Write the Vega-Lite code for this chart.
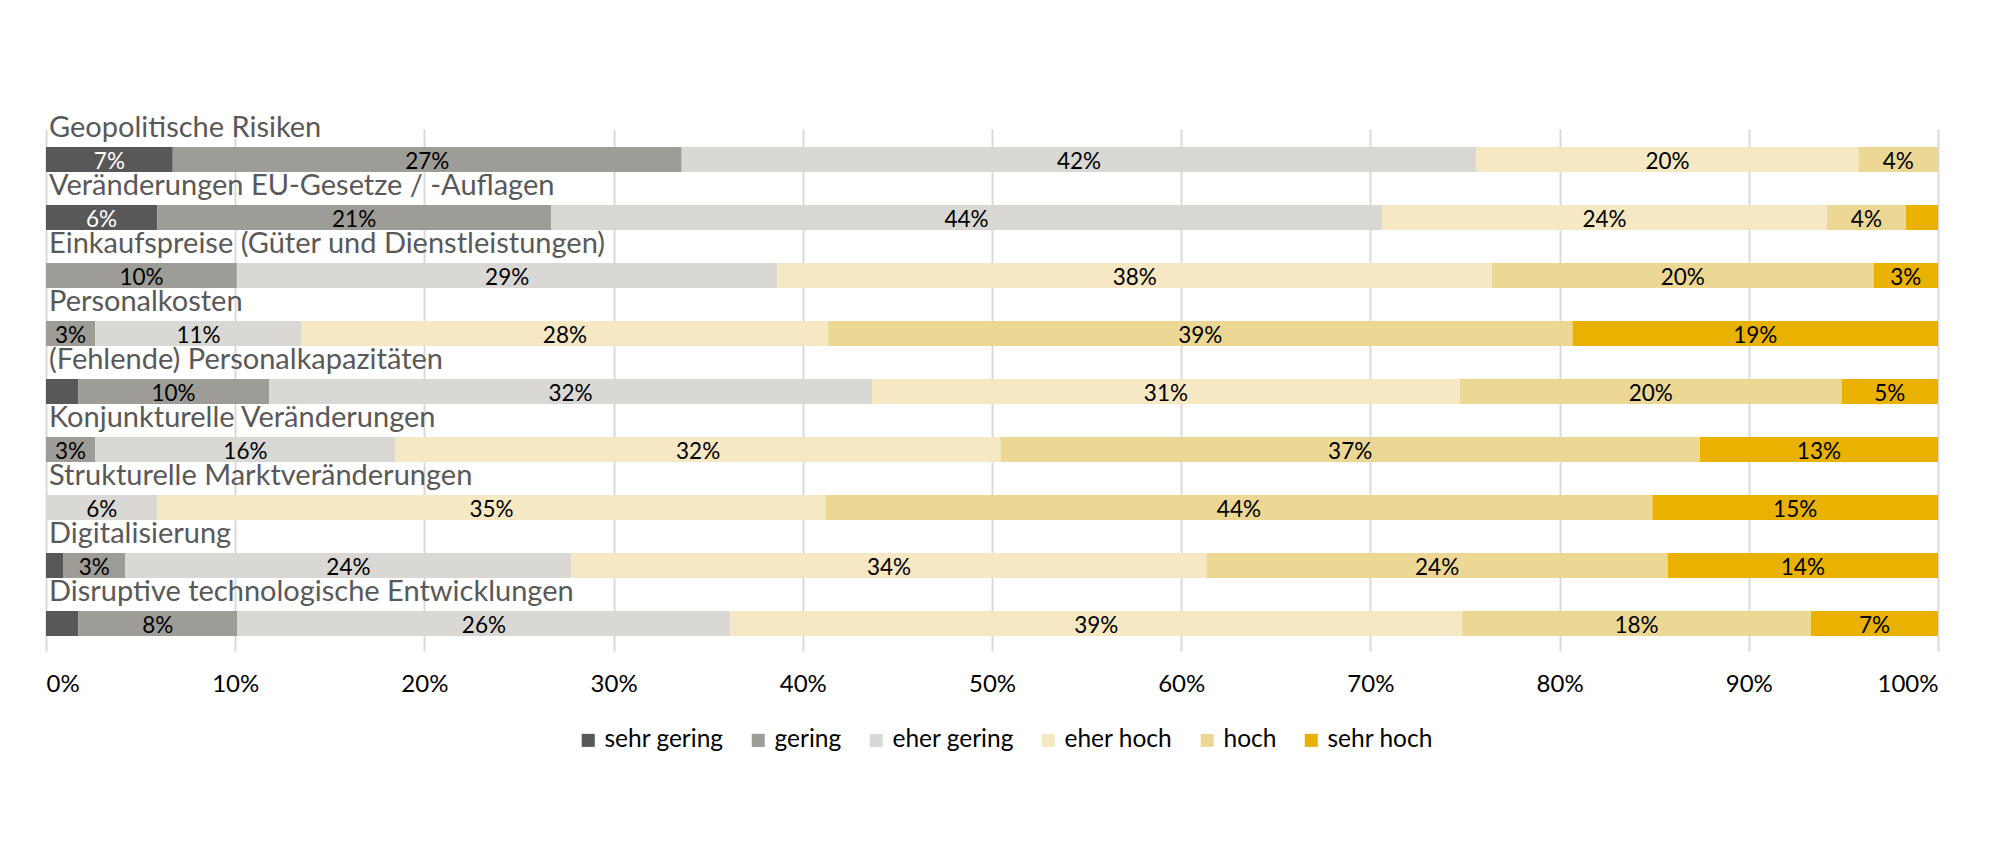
{
  "$schema": "https://vega.github.io/schema/vega-lite/v6.json",
  "width": 1892,
  "height": 522,
  "autosize": {"type": "none"},
  "padding": {"left": 46, "top": 129, "right": 63, "bottom": 192},
  "background": "white",
  "config": {
    "font": "Lato",
    "view": {"stroke": null}
  },
  "datasets": {
    "seg": [
      {"cat": "Geopolitische Risiken", "level": "sehr gering", "k": 1, "v": 0.067},
      {"cat": "Geopolitische Risiken", "level": "gering", "k": 2, "v": 0.269},
      {"cat": "Geopolitische Risiken", "level": "eher gering", "k": 3, "v": 0.420},
      {"cat": "Geopolitische Risiken", "level": "eher hoch", "k": 4, "v": 0.202},
      {"cat": "Geopolitische Risiken", "level": "hoch", "k": 5, "v": 0.042},
      {"cat": "Veränderungen EU-Gesetze / -Auflagen", "level": "sehr gering", "k": 1, "v": 0.059},
      {"cat": "Veränderungen EU-Gesetze / -Auflagen", "level": "gering", "k": 2, "v": 0.209},
      {"cat": "Veränderungen EU-Gesetze / -Auflagen", "level": "eher gering", "k": 3, "v": 0.441},
      {"cat": "Veränderungen EU-Gesetze / -Auflagen", "level": "eher hoch", "k": 4, "v": 0.236},
      {"cat": "Veränderungen EU-Gesetze / -Auflagen", "level": "hoch", "k": 5, "v": 0.042},
      {"cat": "Veränderungen EU-Gesetze / -Auflagen", "level": "sehr hoch", "k": 6, "v": 0.017},
      {"cat": "Einkaufspreise (Güter und Dienstleistungen)", "level": "gering", "k": 2, "v": 0.101},
      {"cat": "Einkaufspreise (Güter und Dienstleistungen)", "level": "eher gering", "k": 3, "v": 0.286},
      {"cat": "Einkaufspreise (Güter und Dienstleistungen)", "level": "eher hoch", "k": 4, "v": 0.378},
      {"cat": "Einkaufspreise (Güter und Dienstleistungen)", "level": "hoch", "k": 5, "v": 0.202},
      {"cat": "Einkaufspreise (Güter und Dienstleistungen)", "level": "sehr hoch", "k": 6, "v": 0.034},
      {"cat": "Personalkosten", "level": "gering", "k": 2, "v": 0.026},
      {"cat": "Personalkosten", "level": "eher gering", "k": 3, "v": 0.109},
      {"cat": "Personalkosten", "level": "eher hoch", "k": 4, "v": 0.278},
      {"cat": "Personalkosten", "level": "hoch", "k": 5, "v": 0.393},
      {"cat": "Personalkosten", "level": "sehr hoch", "k": 6, "v": 0.193},
      {"cat": "(Fehlende) Personalkapazitäten", "level": "sehr gering", "k": 1, "v": 0.017},
      {"cat": "(Fehlende) Personalkapazitäten", "level": "gering", "k": 2, "v": 0.101},
      {"cat": "(Fehlende) Personalkapazitäten", "level": "eher gering", "k": 3, "v": 0.319},
      {"cat": "(Fehlende) Personalkapazitäten", "level": "eher hoch", "k": 4, "v": 0.311},
      {"cat": "(Fehlende) Personalkapazitäten", "level": "hoch", "k": 5, "v": 0.202},
      {"cat": "(Fehlende) Personalkapazitäten", "level": "sehr hoch", "k": 6, "v": 0.051},
      {"cat": "Konjunkturelle Veränderungen", "level": "gering", "k": 2, "v": 0.026},
      {"cat": "Konjunkturelle Veränderungen", "level": "eher gering", "k": 3, "v": 0.159},
      {"cat": "Konjunkturelle Veränderungen", "level": "eher hoch", "k": 4, "v": 0.320},
      {"cat": "Konjunkturelle Veränderungen", "level": "hoch", "k": 5, "v": 0.370},
      {"cat": "Konjunkturelle Veränderungen", "level": "sehr hoch", "k": 6, "v": 0.126},
      {"cat": "Strukturelle Marktveränderungen", "level": "eher gering", "k": 3, "v": 0.059},
      {"cat": "Strukturelle Marktveränderungen", "level": "eher hoch", "k": 4, "v": 0.353},
      {"cat": "Strukturelle Marktveränderungen", "level": "hoch", "k": 5, "v": 0.437},
      {"cat": "Strukturelle Marktveränderungen", "level": "sehr hoch", "k": 6, "v": 0.151},
      {"cat": "Digitalisierung", "level": "sehr gering", "k": 1, "v": 0.009},
      {"cat": "Digitalisierung", "level": "gering", "k": 2, "v": 0.033},
      {"cat": "Digitalisierung", "level": "eher gering", "k": 3, "v": 0.236},
      {"cat": "Digitalisierung", "level": "eher hoch", "k": 4, "v": 0.336},
      {"cat": "Digitalisierung", "level": "hoch", "k": 5, "v": 0.244},
      {"cat": "Digitalisierung", "level": "sehr hoch", "k": 6, "v": 0.143},
      {"cat": "Disruptive technologische Entwicklungen", "level": "sehr gering", "k": 1, "v": 0.017},
      {"cat": "Disruptive technologische Entwicklungen", "level": "gering", "k": 2, "v": 0.084},
      {"cat": "Disruptive technologische Entwicklungen", "level": "eher gering", "k": 3, "v": 0.260},
      {"cat": "Disruptive technologische Entwicklungen", "level": "eher hoch", "k": 4, "v": 0.386},
      {"cat": "Disruptive technologische Entwicklungen", "level": "hoch", "k": 5, "v": 0.184},
      {"cat": "Disruptive technologische Entwicklungen", "level": "sehr hoch", "k": 6, "v": 0.067}
    ]
  },
  "data": {"name": "seg"},
  "transform": [
    {"stack": "v", "groupby": ["cat"], "sort": [{"field": "k", "order": "ascending"}], "as": ["x0", "x1"], "offset": "normalize"},
    {"calculate": "(datum.x0 + datum.x1) / 2", "as": "xm"}
  ],
  "encoding": {
    "y": {
      "field": "cat",
      "type": "nominal",
      "sort": ["Geopolitische Risiken", "Veränderungen EU-Gesetze / -Auflagen", "Einkaufspreise (Güter und Dienstleistungen)", "Personalkosten", "(Fehlende) Personalkapazitäten", "Konjunkturelle Veränderungen", "Strukturelle Marktveränderungen", "Digitalisierung", "Disruptive technologische Entwicklungen"],
      "scale": {"paddingInner": 0, "paddingOuter": 0},
      "axis": null
    }
  },
  "layer": [
    {
      "mark": {"type": "bar", "height": 25, "yOffset": 1.5},
      "encoding": {
        "x": {
          "field": "x0",
          "type": "quantitative",
          "scale": {"domain": [0, 1], "nice": false},
          "axis": {
            "values": [0, 0.1, 0.2, 0.3, 0.4, 0.5, 0.6, 0.7, 0.8, 0.9, 1],
            "format": ".0%",
            "title": null,
            "domain": false,
            "ticks": false,
            "grid": true,
            "gridColor": "#d9d9d9",
            "gridWidth": 2,
            "labelFontSize": 24,
            "labelColor": "#000000",
            "labelPadding": 21,
            "labelFont": "Lato"
          }
        },
        "x2": {"field": "x1"},
        "color": {
          "field": "level",
          "type": "nominal",
          "scale": {
            "domain": ["sehr gering", "gering", "eher gering", "eher hoch", "hoch", "sehr hoch"],
            "range": ["#585858", "#9d9c97", "#d9d8d4", "#f5e8c2", "#ecd794", "#e9b200"]
          },
          "legend": {
            "title": null,
            "orient": "none",
            "direction": "horizontal",
            "legendX": 530,
            "legendY": 599,
            "symbolType": "square",
            "symbolSize": 170,
            "symbolStrokeWidth": 0,
            "symbolOpacity": 1,
            "labelFontSize": 24.5,
            "labelColor": "#000000",
            "labelOffset": 4,
            "columnPadding": 22,
            "labelFont": "Lato"
          }
        }
      }
    },
    {
      "transform": [{"filter": "datum.v >= 0.025"}],
      "mark": {"type": "text", "baseline": "alphabetic", "yOffset": 11, "fontSize": 22.5, "font": "Lato"},
      "encoding": {
        "x": {"field": "xm", "type": "quantitative"},
        "text": {"field": "v", "type": "quantitative", "format": ".0%"},
        "color": {"condition": {"test": "datum.level === 'sehr gering'", "value": "#ffffff"}, "value": "#000000"}
      }
    },
    {
      "transform": [{"aggregate": [{"op": "count", "as": "n"}], "groupby": ["cat"]}],
      "mark": {"type": "text", "align": "left", "baseline": "alphabetic", "yOffset": -21, "dx": 3, "fontSize": 29, "color": "#595959", "font": "Lato"},
      "encoding": {
        "x": {"datum": 0, "type": "quantitative"},
        "text": {"field": "cat", "type": "nominal"}
      }
    }
  ]
}
